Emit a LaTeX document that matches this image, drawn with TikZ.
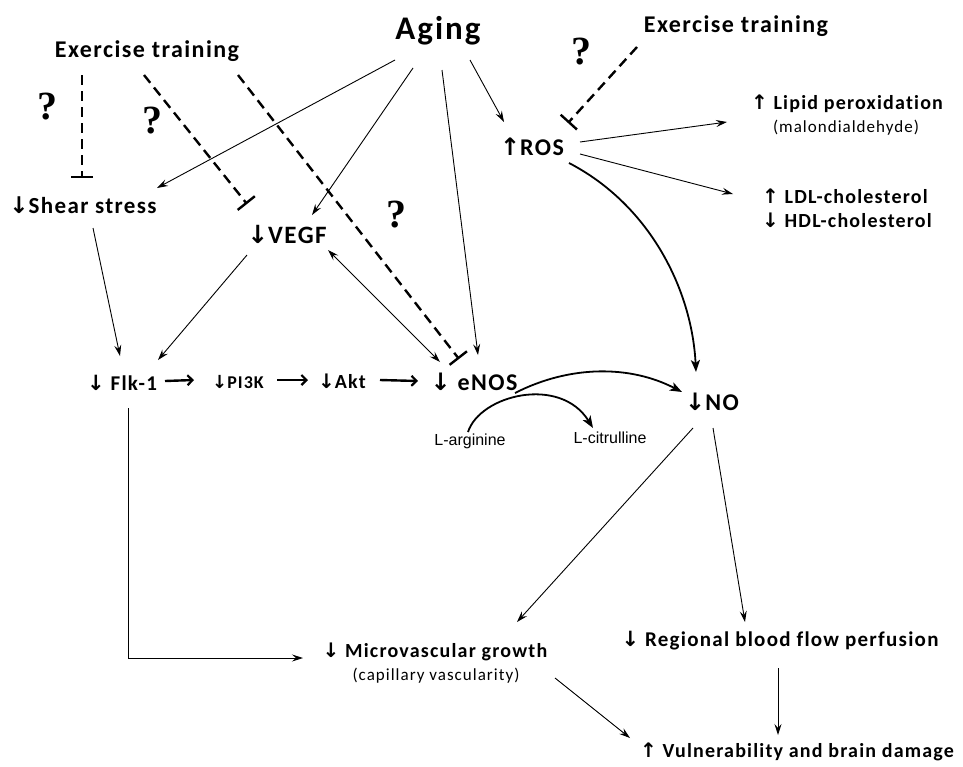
\documentclass[tikz,border=0pt]{standalone}
\usepackage{fontspec}
\setmainfont{Carlito}[LetterSpace=6,Ligatures={NoCommon}]
\newfontfamily\arrfont{DejaVu Sans}
\newfontfamily\argfont{Liberation Sans}
\newfontfamily\qfont{Liberation Serif}
\usetikzlibrary{arrows.meta,calc}
\newcommand\dnA{{\arrfont ↓}}
\newcommand\upA{{\arrfont ↑}}
\newcommand\fs[1]{\fontsize{#1}{#1}\selectfont}
\begin{document}
\begin{tikzpicture}[x=1pt,y=-1pt,
 lab/.style={inner sep=2pt, align=center},
 b/.style={font=\bfseries\fs{#1}},
 ar/.style={line width=0.9pt, -{Stealth[length=11pt,width=7pt,inset=4pt]}},
 dar/.style={line width=0.9pt, {Stealth[length=11pt,width=7pt,inset=4pt]}-{Stealth[length=11pt,width=7pt,inset=4pt]}},
 thk/.style={line width=2.4pt, -{Straight Barb[length=5pt,width=10pt,line width=2.2pt]}},
 crv/.style={line width=1.8pt, -{Stealth[length=12pt,width=9pt,inset=3pt]}},
 inh/.style={line width=2.4pt, dash pattern=on 10pt off 6pt, -{Bar[width=22pt,line width=2.4pt]}},
 q/.style={font=\qfont\bfseries\fs{40}, inner sep=0pt}]

\useasboundingbox[fill=white] (0,0) rectangle (963,766);

% nodes
\node[lab,b=33] (aging) at (438,31) {Aging};
\node[lab,b=24] (exL) at (147,51) {Exercise training};
\node[lab,b=24] (exR) at (736,26) {Exercise training};
\node[q] (q1) at (47,107) {?};
\node[q] (q2) at (152,121) {?};
\node[q] (q3) at (396,215) {?};
\node[q] (q4) at (581,52) {?};
\node[lab,b=23] (shear) at (83,205) {\dnA Shear stress};
\node[lab,b=25] (vegf) at (287,234) {\dnA VEGF};
\node[lab,b=21] (flk) at (122,383) {\dnA\ Flk-1};
\node[lab,b=18] (pi3k) at (238,382) {\dnA PI3K};
\node[lab,b=20] (akt) at (342,381) {\dnA Akt};
\node[lab,b=24] (enos) at (474,382) {\dnA\ eNOS};
\node[lab,b=24] (no) at (712,402) {\dnA NO};
\node[lab,b=24] (ros) at (532,147) {\upA ROS};
\node[lab,b=20] (lipid) at (847,104) {\upA\ Lipid peroxidation};
\node[lab,font=\fs{17}] (malon) at (846,128) {(malondialdehyde)};
\node[lab,b=20] (ldl) at (845,196) {\upA\ LDL-cholesterol};
\node[lab,b=20] (hdl) at (847,220) {\dnA\ HDL-cholesterol};
\node[lab,font=\argfont\fs{16}] (larg) at (470,441) {L-arginine};
\node[lab,font=\argfont\fs{16}] (lcit) at (610,438) {L-citrulline};
\node[lab,b=20] (micro) at (435,652) {\dnA\ Microvascular growth};
\node[lab,font=\fs{17}] (capv) at (436,676) {(capillary vascularity)};
\node[lab,b=21] (reg) at (780,641) {\dnA\ Regional blood flow perfusion};
\node[lab,b=20] (vul) at (797,752) {\upA\ Vulnerability and brain damage};

% aging arrows
\draw[ar] ($(aging)+(-43,29)$) -- ($(shear)+(74,-17)$);
\draw[ar] ($(aging)+(-25,37)$) -- ($(vegf)+(25,-19)$);
\draw[ar] ($(aging)+(4,39)$) -- ($(enos)+(4,-27)$);
\draw[ar] ($(aging)+(32,29)$) -- ($(ros)+(-28,-25)$);

% exercise inhibitions
\draw[inh] ($(exL)+(-65,24)$) -- ($(shear)+(-1,-27)$);
\draw[inh] ($(exL)+(-3,24)$) -- ($(vegf)+(-40,-30)$);
\draw[inh] ($(exL)+(91,24)$) -- ($(enos)+(-15,-23)$);
\draw[inh] ($(exR)+(-99,21)$) -- ($(ros)+(36,-24)$);

% middle
\draw[dar] ($(vegf)+(41,16)$) -- ($(enos)+(-34,-20)$);
\draw[ar] ($(shear)+(10,23)$) -- ($(flk)+(-2,-27)$);
\draw[ar] ($(vegf)+(-40,21)$) -- ($(flk)+(36,-23)$);
\draw[thk] ($(flk)+(43,-2)$) -- ($(pi3k)+(-44,-2)$);
\draw[thk] ($(pi3k)+(39,-2)$) -- ($(akt)+(-34,-1)$);
\draw[thk] ($(akt)+(38,-1)$) -- ($(enos)+(-56,-1)$);

% ROS
\draw[ar] ($(ros)+(48,-5)$) -- ($(lipid)+(-120,18)$);
\draw[ar] ($(ros)+(48,7)$) -- ($(ldl)+(-112,-2)$);
\draw[crv] ($(ros)+(37,16)$) .. controls (650,205) and (692,290) .. ($(no)+(-16,-30)$);

% eNOS reaction
\draw[crv] ($(enos)+(41,11)$) .. controls (570,365) and (630,365) .. ($(no)+(-30,-10)$);
\draw[crv] ($(larg)+(-2,-9)$) .. controls (480,395) and (560,375) .. ($(lcit)+(-17,-10)$);

% bottom
\draw[ar] ($(flk)+(6,25)$) |- ($(micro)+(-132,6)$);
\draw[ar] ($(no)+(-19,26)$) -- ($(micro)+(82,-30)$);
\draw[ar] ($(no)+(1,26)$) -- ($(reg)+(-35,-19)$);
\draw[ar] ($(reg)+(-2,27)$) -- ($(vul)+(-19,-17)$);
\draw[ar] ($(capv)+(119,2)$) -- ($(vul)+(-167,-14)$);
\end{tikzpicture}
\end{document}
